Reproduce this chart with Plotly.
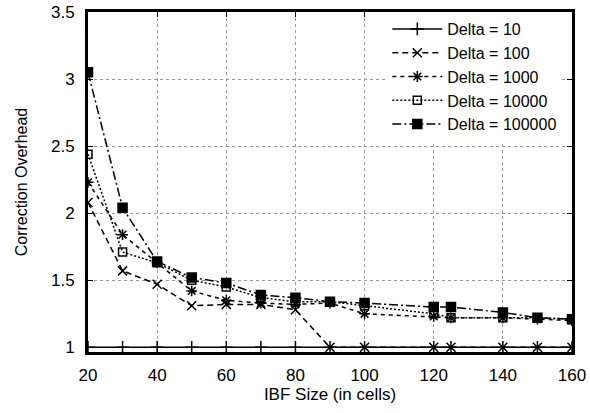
import plotly.graph_objects as go

ibf_size = [20, 30, 40, 50, 60, 70, 80, 90, 100, 120, 125, 140, 150, 160]
delta_10 = [1.0, 1.0, 1.0, 1.0, 1.0, 1.0, 1.0, 1.0, 1.0, 1.0, 1.0, 1.0, 1.0, 1.0]
delta_100 = [2.08, 1.57, 1.47, 1.31, 1.32, 1.32, 1.28, 1.0, 1.0, 1.0, 1.0, 1.0, 1.0, 1.0]
delta_1000 = [2.23, 1.84, 1.63, 1.42, 1.35, 1.33, 1.32, 1.33, 1.25, 1.23, 1.22, 1.22, 1.21, 1.20]
delta_10000 = [2.44, 1.71, 1.63, 1.50, 1.45, 1.37, 1.34, 1.34, 1.31, 1.25, 1.22, 1.22, 1.22, 1.21]
delta_100000 = [3.05, 2.04, 1.64, 1.52, 1.48, 1.39, 1.37, 1.34, 1.33, 1.30, 1.30, 1.26, 1.22, 1.21]

x_ticks = [20, 40, 60, 80, 100, 120, 140, 160]
y_ticks = [1, 1.5, 2, 2.5, 3, 3.5]
y_tick_labels = ["1", "1.5", "2", "2.5", "3", "3.5"]

names = ["Delta = 10", "Delta = 100", "Delta = 1000", "Delta = 10000", "Delta = 100000"]
series = [delta_10, delta_100, delta_1000, delta_10000, delta_100000]
symbols = ["cross-thin", "x-thin", "asterisk-open", "square-open", "square"]
dashes = ["solid", "6px,4px", "4px,4px", "2px,2px", "9px,3px,2px,3px"]
msizes = [9, 9, 9, 8, 9]

FONT = "Liberation Sans, Arial, Helvetica, sans-serif"

fig = go.Figure()
for nm, ys, sym, dsh, ms in zip(names, series, symbols, dashes, msizes):
    fig.add_trace(go.Scatter(
        x=ibf_size, y=ys, name=nm, mode="lines+markers",
        line=dict(color="black", width=1.5, dash=dsh),
        marker=dict(symbol=sym, size=ms, color="black",
                    line=dict(color="black", width=1.5)),
    ))

axis_common = dict(
    showline=True, linecolor="black", linewidth=3, mirror="ticks",
    ticks="inside", ticklen=5, tickwidth=1, tickcolor="black",
    showgrid=True, gridcolor="#999999", griddash="dot", gridwidth=1,
    zeroline=False,
    tickfont=dict(family=FONT, size=17, color="black"),
)

fig.update_xaxes(range=[20, 160], tickvals=x_ticks,
                 title=dict(text="IBF Size (in cells)", standoff=4,
                            font=dict(family=FONT, size=17, color="black")),
                 ticklabelstandoff=6, **axis_common)
fig.update_yaxes(range=[0.965, 3.5], tickvals=y_ticks, ticktext=y_tick_labels,
                 title=dict(text="Correction Overhead", standoff=20,
                            font=dict(family=FONT, size=16, color="black")),
                 ticklabelstandoff=7, **axis_common)

fig.update_layout(
    width=590, height=413,
    margin=dict(l=88, r=18, t=12, b=61, autoexpand=False),
    plot_bgcolor="white", paper_bgcolor="white",
    font=dict(family=FONT, color="black"),
    legend=dict(x=0.98, y=1.0, xanchor="right", yanchor="top",
                bgcolor="white", borderwidth=0,
                font=dict(family=FONT, size=16, color="black"),
                itemwidth=50, tracegroupgap=0),
)

fig.write_html("out.html", config={"displayModeBar": False})

with open("out.html", "r", encoding="utf-8") as f:
    html = f.read()
html = html.replace("<head>", "<head><style>html,body{margin:0;padding:0;overflow:hidden;}</style>", 1)
with open("out.html", "w", encoding="utf-8") as f:
    f.write(html)
